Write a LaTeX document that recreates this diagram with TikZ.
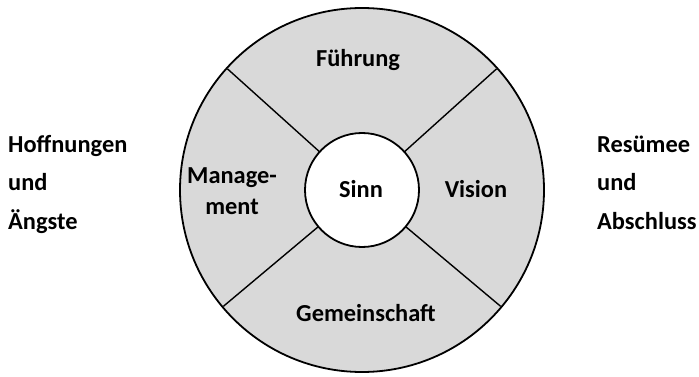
\documentclass[tikz,border=0pt]{standalone}
\usepackage{fontspec}
\setmainfont{Carlito}
\begin{document}
\begin{tikzpicture}[x=1pt,y=-1pt,
  lbl/.style={font=\fontsize{24.4}{31}\selectfont\bfseries, inner sep=0pt},
  side/.style={lbl, anchor=base west},
  ring/.style={line width=1.8pt, draw=black},
  divider/.style={line width=1.4pt, draw=black}]
\useasboundingbox (0,0) rectangle (699,377);
\coordinate (c) at (362,190);
\node[circle, minimum size=364pt, ring, fill={rgb,255:red,217;green,217;blue,217}, inner sep=0pt] (outer) at (c) {};
\node[circle, minimum size=114pt, ring, fill=white, inner sep=0pt] (inner) at (c) {};
\foreach \a/\n in {42/a,138/b,220/d,320/e}{
  \coordinate (i\n) at ([shift={(\a:57pt)}]c);
  \coordinate (o\n) at ([shift={(\a:181pt)}]c);
  \draw[divider] (i\n) -- (o\n);
}
\node[lbl, anchor=base] (fuehrung) at (358,67) {Führung};
\node[lbl, anchor=base, align=center] (management) at (232,214) {Manage-\\ment};
\node[lbl, anchor=base] (sinn) at (361,197) {Sinn};
\node[lbl, anchor=base] (vision) at (476,197) {Vision};
\node[lbl, anchor=base] (gemeinschaft) at (366,321) {Gemeinschaft};
\node[side] (hoff) at (8,153) {Hoffnungen};
\node[side] (und1) at (8,190) {und};
\node[side] (angst) at (8,229) {Ängste};
\node[side] (res) at (597,153) {Resümee};
\node[side] (und2) at (597,190) {und};
\node[side] (absch) at (597,229) {Abschluss};
\end{tikzpicture}
\end{document}
